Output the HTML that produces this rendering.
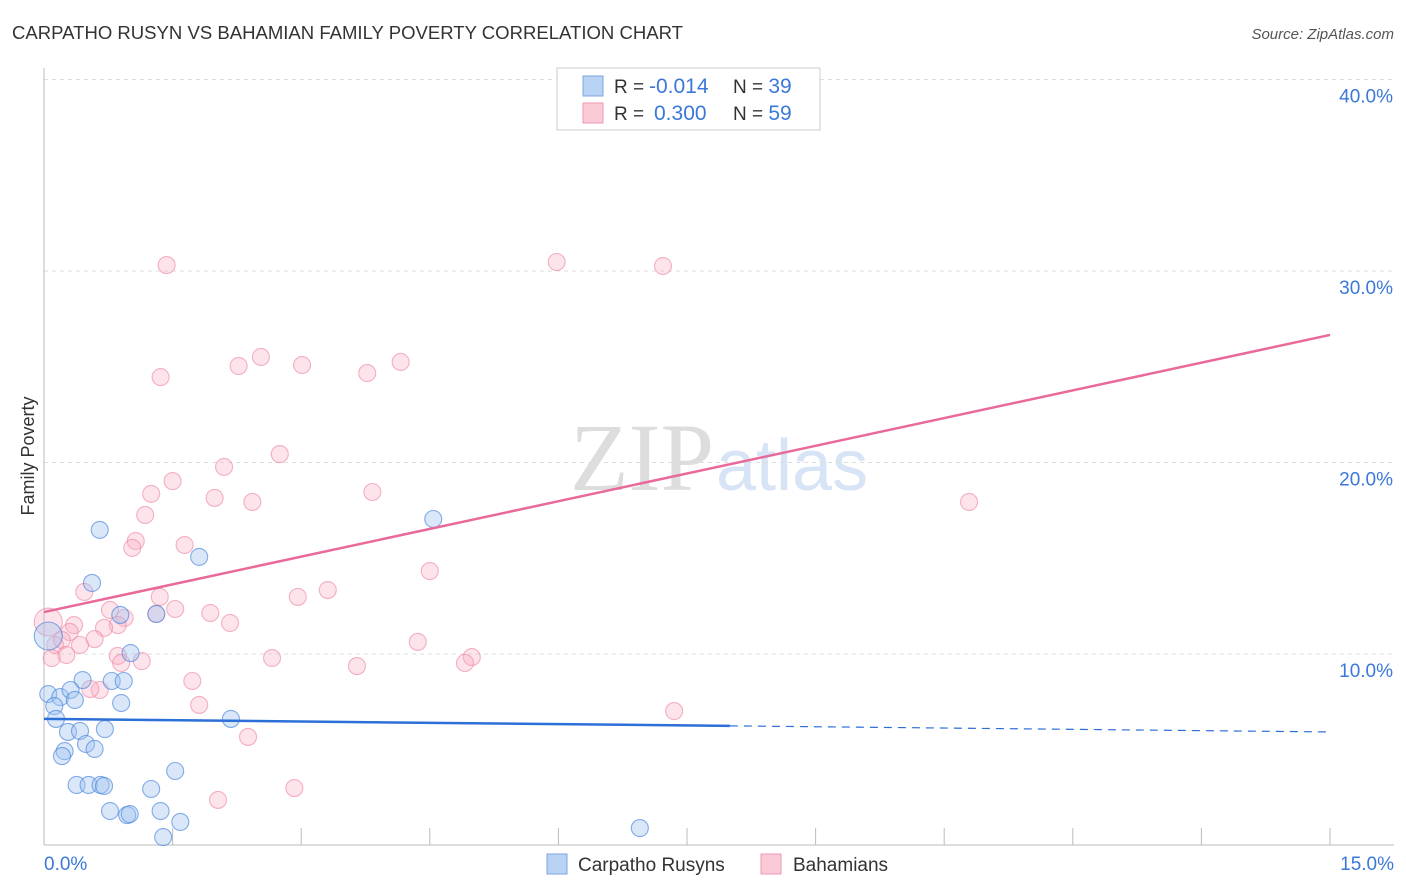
<!DOCTYPE html>
<html><head><meta charset="utf-8"><style>
body{margin:0;background:#fff;font-family:"Liberation Sans",sans-serif;}
svg{display:block}
</style></head><body>
<svg id="chart" width="1406" height="892">
<text x="12" y="39" font-size="18" fill="#333" textLength="671" lengthAdjust="spacingAndGlyphs">CARPATHO RUSYN VS BAHAMIAN FAMILY POVERTY CORRELATION CHART</text>
<text x="1394" y="39" font-size="15" fill="#555" font-style="italic" text-anchor="end">Source: ZipAtlas.com</text>
<text x="34" y="456" font-size="18" fill="#333" transform="rotate(-90 34 456)" text-anchor="middle">Family Poverty</text>
<text x="714" y="490" font-size="96" fill="#ddd" text-anchor="end" font-family="Liberation Serif,serif">ZIP</text>
<text x="716" y="490" font-size="72" fill="#d6e4f5">atlas</text>
<g id="grid"></g>
<g id="pts"></g>
<g id="lines"></g>
<g>
<rect x="557" y="68" width="263" height="62" fill="#fff" stroke="#ccc"/>
<rect x="583" y="76" width="20" height="20" fill="#b9d3f5" stroke="#7aa6e0"/>
<rect x="583" y="103" width="20" height="20" fill="#fbcad7" stroke="#ef9ab2"/>
<text x="614" y="93" font-size="19" fill="#333">R = <tspan fill="#3b78d8" x="649" font-size="21">-0.014</tspan><tspan x="733">N = </tspan><tspan fill="#3b78d8" font-size="21">39</tspan></text>
<text x="614" y="120" font-size="19" fill="#333">R = <tspan fill="#3b78d8" x="654" font-size="21">0.300</tspan><tspan x="733">N = </tspan><tspan fill="#3b78d8" font-size="21">59</tspan></text>
</g>
<g>
<rect x="547" y="854" width="20" height="20" fill="#b9d3f5" stroke="#7aa6e0"/>
<text x="578" y="871" font-size="19" fill="#333">Carpatho Rusyns</text>
<rect x="761" y="854" width="20" height="20" fill="#fbcad7" stroke="#ef9ab2"/>
<text x="793" y="871" font-size="19" fill="#333">Bahamians</text>
</g>
</svg>
<script>
const yTicks=[10,20,30,40];
const yTickLabels=["10.0%","20.0%","30.0%","40.0%"];
const xTickLabels=["0.0%","15.0%"];
const rusynX=[0.65,1.81,4.54,0.56,0.89,1.31,0.05,1.01,0.45,0.79,0.93,0.05,0.19,0.31,0.36,0.12,0.14,0.90,2.18,0.28,0.42,0.71,0.49,0.59,0.24,0.21,0.38,0.52,0.66,0.70,1.53,1.25,0.77,0.97,1.00,1.36,1.59,1.39,6.95];
const rusynY=[16.48,15.07,17.05,13.71,12.04,12.09,10.94,10.05,8.64,8.59,8.59,7.91,7.75,8.12,7.60,7.28,6.61,7.44,6.61,5.93,5.98,6.08,5.30,5.04,4.93,4.67,3.16,3.16,3.16,3.11,3.89,2.95,1.80,1.59,1.64,1.80,1.23,0.44,0.91];
const bahX=[1.43,5.98,7.22,1.36,2.27,2.53,3.01,3.77,4.16,2.10,2.75,1.50,1.25,1.99,2.43,3.83,10.79,1.18,1.07,1.03,1.64,4.50,0.47,3.31,2.96,1.35,0.77,1.31,1.53,1.94,0.94,0.86,2.17,0.70,0.35,0.30,0.05,0.13,0.21,0.59,0.42,0.26,0.09,0.86,1.14,0.90,2.66,3.65,4.36,4.99,4.91,0.65,0.54,1.73,1.81,7.35,2.38,2.03,2.92];
const bahY=[30.31,30.47,30.26,24.46,25.04,25.51,25.09,24.67,25.25,19.77,20.44,19.03,18.36,18.15,17.94,18.46,17.94,17.26,15.90,15.54,15.69,14.33,13.24,13.34,12.98,12.98,12.30,12.09,12.35,12.14,11.88,11.51,11.62,11.36,11.51,11.15,11.67,10.47,10.73,10.78,10.47,9.95,9.79,9.90,9.63,9.53,9.79,9.37,10.63,9.84,9.53,8.12,8.17,8.59,7.34,7.02,5.67,2.38,3.00];
const bahTrend=[12.19,26.66];
const rusynTrend=[6.61,5.93];
const rusynSolidEnd=8.0;

const X=v=>44+v/15*1286;
const Y=v=>845.5-v*19.15;
const NS="http://www.w3.org/2000/svg";
function mk(tag,attrs,parent){const e=document.createElementNS(NS,tag);for(const k in attrs)e.setAttribute(k,attrs[k]);parent.appendChild(e);return e;}
const grid=document.getElementById('grid');
yTicks.forEach((t,i)=>{
 const l=mk('line',{x1:44,x2:1394,y1:Y(t),y2:Y(t),stroke:'#ddd','stroke-dasharray':'4,4'},grid);
 
 
 const tx=mk('text',{x:1393,y:Y(t)+23,'font-size':19,fill:'#3b78d8','text-anchor':'end'},grid);
 tx.textContent=yTickLabels[i];
 
 
});
const ax=mk('line',{x1:44,x2:44,y1:68,y2:845,stroke:'#bbb'},grid);


const bx=mk('line',{x1:44,x2:1394,y1:845,y2:845,stroke:'#bbb'},grid);


for(let i=1;i<=10;i++){
 const t=mk('line',{x1:X(i*1.5),x2:X(i*1.5),y1:828,y2:845,stroke:'#bbb'},grid);
 
 
}
[[0,'start',44],[15,'end',1394]].forEach((d,i)=>{
 const tx=mk('text',{x:d[2],y:870,'font-size':19,fill:'#3b78d8','text-anchor':d[1]},grid);
 tx.textContent=xTickLabels[i];
 
 
});
const pts=document.getElementById('pts');
bahX.forEach((x,i)=>{
 const big=(x<0.1&&bahY[i]>11.5);
 const c=mk('circle',{cx:X(x),cy:Y(bahY[i]),r:big?14:8.5,fill:'rgba(248,175,196,0.35)',stroke:'rgba(236,130,160,0.6)','stroke-width':1.1},pts);
 
 
});
rusynX.forEach((x,i)=>{
 const big=(x<0.1&&rusynY[i]>10);
 const c=mk('circle',{cx:X(x),cy:Y(rusynY[i]),r:big?14:8.5,fill:'rgba(160,195,240,0.4)',stroke:'rgba(70,130,220,0.65)','stroke-width':1.1},pts);
 
 
});
const lines=document.getElementById('lines');
const pl=mk('line',{x1:X(0),y1:Y(bahTrend[0]),x2:X(15),y2:Y(bahTrend[1]),stroke:'#e8699a','stroke-width':2.5},lines);


const ry=x=>rusynTrend[0]+(rusynTrend[1]-rusynTrend[0])*x/15;
const bl=mk('line',{x1:X(0),y1:Y(ry(0)),x2:X(rusynSolidEnd),y2:Y(ry(rusynSolidEnd)),stroke:'#2c6fd6','stroke-width':2.5},lines);


const bd=mk('line',{x1:X(rusynSolidEnd),y1:Y(ry(rusynSolidEnd)),x2:X(15),y2:Y(ry(15)),stroke:'#2c6fd6','stroke-width':1.2,'stroke-dasharray':'8,6'},lines);


</script>
</body></html>
